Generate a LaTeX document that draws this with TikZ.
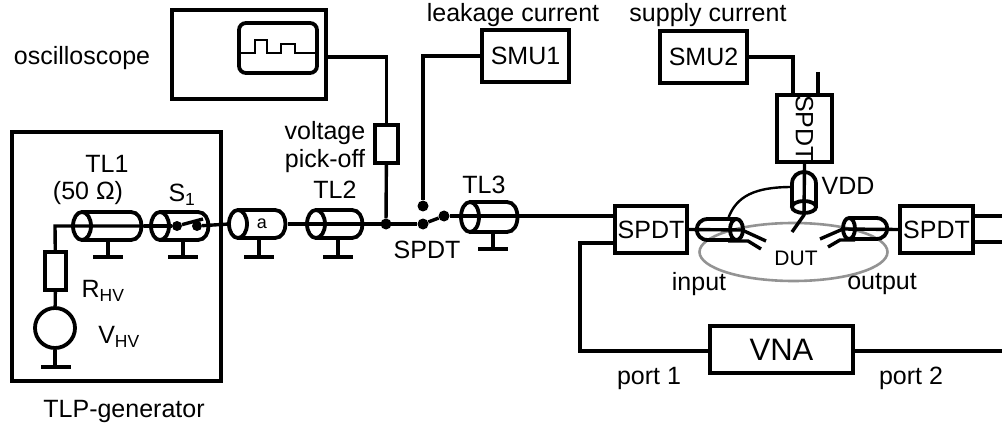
\documentclass[tikz,border=0pt]{standalone}
\usepackage{fontspec}
\setmainfont{Liberation Sans}
\usepackage{tikz}
\usetikzlibrary{calc}
\definecolor{traco}{HTML}{000000}
\definecolor{anel}{HTML}{939393}
\begin{document}
\begin{tikzpicture}[x=1pt,y=-1pt, font=\fontsize{25}{29}\selectfont,
    inst/.style={draw=traco, line width=4.4pt, fill=white, inner sep=0pt, align=center, minimum width=#1},
    wire/.style={draw=traco, line width=3.4pt},
    thin wire/.style={draw=traco, line width=2.4pt},
    tube/.style={draw=traco, line width=3.8pt},
    bar/.style={draw=traco, line width=3.4pt},
    dot/.style={circle, fill=traco, inner sep=0pt, minimum size=#1},
    lbl/.style={inner sep=0pt, align=center}]
  \useasboundingbox (0,0) rectangle (1002,425);
  % instruments
  \node[inst=209pt, minimum height=249pt] (tlp) at (116.5,256.5) {};
  \node[inst=154pt, minimum height=89pt] (scope) at (249,54.5) {};
  \node[inst=23pt, minimum height=38pt] (rpick) at (386.5,144) {};
  \node[inst=87pt, minimum height=52pt] (smua) at (525.5,56) {SMU1};
  \node[inst=87pt, minimum height=52pt] (smub) at (703.5,57) {SMU2};
  \node[inst=72pt, minimum height=47pt] (spdtin) at (651,229.5) {SPDT};
  \node[inst=73pt, minimum height=47pt] (spdtout) at (936.5,229.5) {SPDT};
  \node[inst=55pt, minimum height=65pt] (spdtvdd) at (804.5,128.5) {\rotatebox{-90}{SPDT}};
  \node[inst=143pt, minimum height=47pt, font=\fontsize{31}{35}\selectfont] (vna) at (781.5,349.5) {VNA};
  \node[inst=21pt, minimum height=38pt] (rhv) at (55.5,271) {};
  \node[circle, draw=traco, line width=3.8pt, minimum size=40pt, inner sep=0pt] (vhv) at (55,328) {};
  % DUT ring
  \draw[anel, line width=2.6pt] (793.5,252) ellipse [x radius=94, y radius=29];
  % scope screen
  \draw[tube, rounded corners=7pt] (239,23) rectangle (317,73);
  \draw[draw=traco, line width=2.2pt] (240,53) -- (255,53) -- (255,40) -- (267,40) -- (267,53) -- (281,53) -- (281,44) -- (295,44) -- (295,53) -- (316,53);
  % coaxial sections
  \foreach \n/\ex/\rx/\cy/\ry/\gx in {tla/82/144/226/14/108, swa/160/211/226/14/183, atn/238/288/224/14/259, tlb/316/365/224/14/338, tlc/470/520/217/15/493}{
    \draw[tube] (\ex,\cy-\ry) -- (\rx-13,\cy-\ry) .. controls (\rx+1,\cy-\ry) and (\rx+1,\cy+\ry) .. (\rx-13,\cy+\ry) -- (\ex,\cy+\ry);
    \draw[tube] (\ex,\cy) ellipse [x radius=9, y radius=\ry];
    \coordinate (\n l) at (\ex-9,\cy);
    \coordinate (\n r) at (\rx,\cy);
    \coordinate (\n b) at (\gx,\cy+\ry);
    \coordinate (\n g) at (\gx,257);
  }
  \coordinate (tlcg) at (493,249);
  \foreach \n in {tla,swa,atn,tlb,tlc}{
    \draw[wire] (\n b) -- (\n g);
    \draw[bar] ($(\n g)+(-15,0)$) -- ($(\n g)+(15,0)$);
  }
  % TLP generator
  \coordinate (knee) at (55,226);
  \coordinate (gndv) at (55,367);
  \draw[wire] (rhv) -- (knee) -- (tlar);
  \draw[wire] (rhv) -- (vhv);
  \draw[wire] (vhv) -- (gndv);
  \draw[bar] (41,367) -- (71,367);
  \node[dot=10pt] (swp) at (177,226) {};
  \node[dot=10pt] (swq) at (197,226) {};
  \draw[wire] (tlar) -- (swp);
  \draw[wire] (swp) -- (203,219);
  \draw[wire] (swq) -- (atnl);
  % output side of generator
  \draw[wire] (atnr) -- (tlbl);
  \node[dot=11pt] (pick) at (386,224) {};
  \node[dot=11pt] (swc) at (423,224) {};
  \node[dot=11pt] (swd) at (423,206) {};
  \node[dot=11pt] (swe) at (444,216) {};
  \draw[wire] (tlbl) -- (swc);
  \draw[wire] (swc) -- (swe);
  \draw[wire] (swe) -- (spdtin.west |- swe);
  \draw[wire] (rpick) -- (pick);
  \draw[wire] (scope.east |- 0,57) -| (rpick.north);
  \draw[wire] (smua.west) -| (swd);
  % RF path
  \draw[wire] (spdtin.west |- 0,243) -| (580,351) -- (vna.west |- 0,351);
  \draw[wire] (vna.east |- 0,351) -- (1002,351);
  \draw[wire] (spdtout.east |- 0,216) -- (1002,216);
  \draw[wire] (spdtout.east |- 0,242) -- (1002,242);
  % probes
  \draw[tube] (736,219) -- (708,219) .. controls (693,219) and (693,240) .. (708,240) -- (736,240);
  \draw[tube] (736.5,229.5) ellipse [x radius=6.5, y radius=10.5];
  \draw[wire] (spdtin.east) -- (742,230) -- (766,241);
  \draw[wire] (728,241) -- (748,241) -- (761,249);
  \draw[tube] (849,218) -- (876,218) .. controls (891,218) and (891,239) .. (876,239) -- (849,239);
  \draw[tube] (849,228.5) ellipse [x radius=6, y radius=10.5];
  \draw[wire] (spdtout.west) -- (843,229) -- (820,239);
  \draw[wire] (855,240) -- (840,240) -- (828,247);
  \draw[tube] (792,207) -- (792,184) .. controls (792,168) and (816,168) .. (816,184) -- (816,207);
  \draw[tube] (804,207) ellipse [x radius=12, y radius=6];
  \draw[wire] (spdtvdd.south) -- (804,215) -- (792,232);
  \draw[thin wire] (728,219) .. controls (736,196) and (755,187) .. (792,187);
  \draw[wire] (smub.east) -| (793,96);
  \coordinate (stub) at (818,72);
  \draw[wire] (stub) -- (stub |- spdtvdd.north);
  % labels
  \node[lbl] (lscope) at (82,58) {oscilloscope};
  \node[lbl] (ltla) at (107,164) {TL1};
  \node[lbl] (lohm) at (88,193) {(50 Ω)};
  \node[lbl] (lsw) at (182,195) {S\textsubscript{1}};
  \node[lbl] (lrhv) at (103,291) {R\textsubscript{HV}};
  \node[lbl] (lvhv) at (119,337) {V\textsubscript{HV}};
  \node[lbl] (ltlp) at (124,411) {TLP-generator};
  \node[lbl, font=\fontsize{18}{22}\selectfont] (latn) at (262,224) {a};
  \node[lbl] (lvolt) at (325,133) {voltage};
  \node[lbl] (lpick) at (325,161) {pick-off};
  \node[lbl] (ltlb) at (335,190) {TL2};
  \node[lbl] (lspdt) at (427,250) {SPDT};
  \node[lbl] (ltlc) at (484,185) {TL3};
  \node[lbl] (lleak) at (513,15) {leakage current};
  \node[lbl] (lsup) at (708,15) {supply current};
  \node[lbl] (lvdd) at (848,186) {VDD};
  \node[lbl, font=\fontsize{21}{25}\selectfont] (ldut) at (796,258) {DUT};
  \node[lbl] (linp) at (699,284) {input};
  \node[lbl] (lout) at (882,284) {output};
  \node[lbl] (lpa) at (649,378) {port 1};
  \node[lbl] (lpb) at (911,378) {port 2};
\end{tikzpicture}
\end{document}
